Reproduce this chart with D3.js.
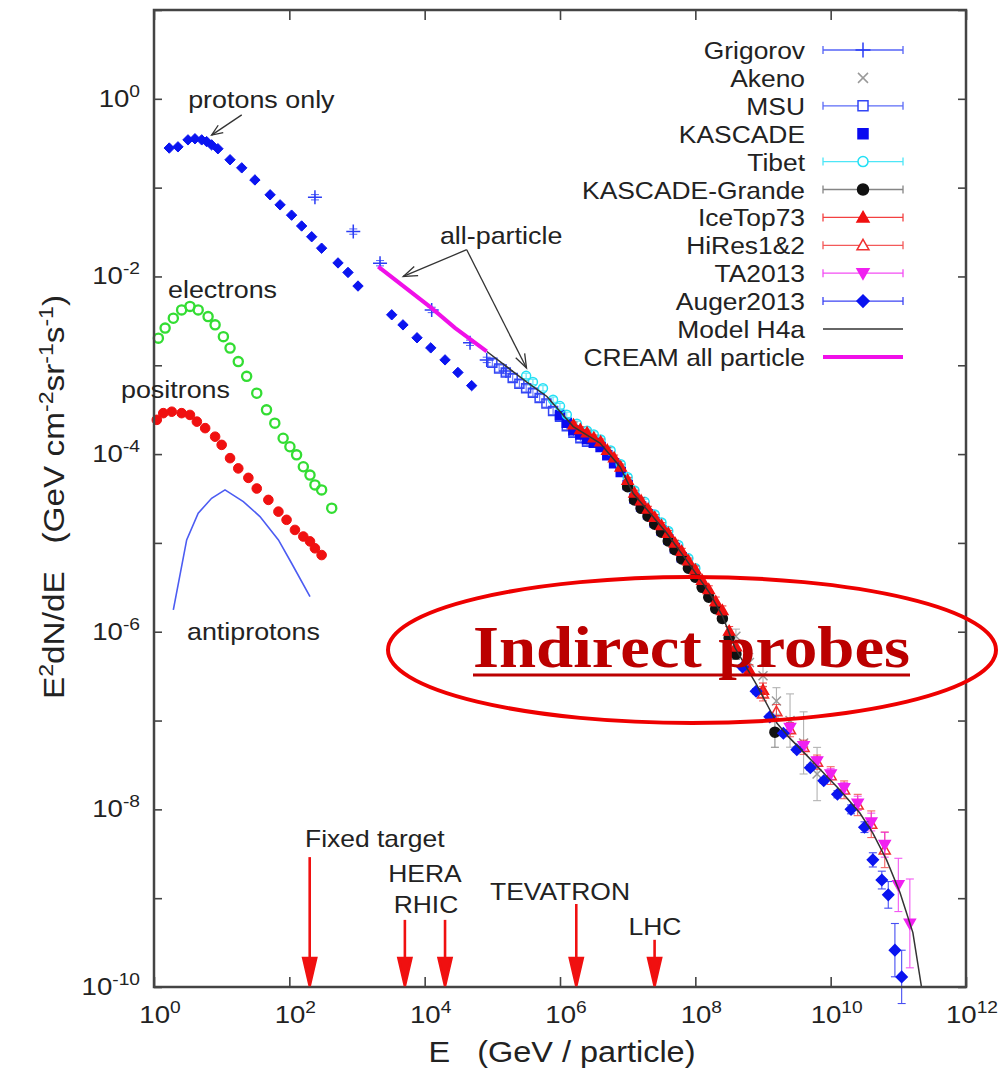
<!DOCTYPE html>
<html>
<head>
<meta charset="utf-8">
<script src="https://cdn.jsdelivr.net/npm/d3@7"></script>
<style>
body { margin: 0; background: #fff; }
svg text { font-family: "Liberation Sans", Arial, Helvetica, sans-serif; fill: #222; white-space: pre; }
</style>
</head>
<body>
<svg id="chart" width="998" height="1078"></svg>
<script>
// ---- data (E in GeV, E^2 dN/dE in GeV cm^-2 sr^-1 s^-1) ----
// low energy direct measurements, no legend entry
const protonsOnly = [[1.68, 0.279], [2.26, 0.288], [3.18, 0.345], [4.03, 0.355], [5.07, 0.345], [6.0, 0.33],
    [7.1, 0.303], [8.8, 0.274], [13.3, 0.206], [19.8, 0.167], [31, 0.122], [52, 0.083], [73, 0.064],
    [108, 0.049], [152, 0.037], [214, 0.028], [300, 0.0208], [524, 0.0142], [736, 0.0111], [1035, 0.0078],
    [3260, 0.0037], [4780, 0.00285], [7710, 0.00204], [12300, 0.00157], [20000, 0.00115], [31000, 0.00083],
    [49500, 0.00059]];
const electrons = [[1.16, 2.02e-3], [1.46, 2.62e-3], [1.93, 3.39e-3], [2.56, 4.2e-3], [3.4, 4.6e-3], [4.5, 4.2e-3],
    [6.3, 3.53e-3], [8.0, 2.85e-3], [10.6, 2.1e-3], [13.3, 1.56e-3], [17.6, 1.1e-3], [23.4, 7.5e-4], [33, 4.85e-4],
    [46, 3.15e-4], [61, 2.23e-4], [81, 1.51e-4], [102, 1.21e-4], [128, 9.8e-5], [161, 7.2e-5], [202, 5.8e-5],
    [239, 4.5e-5], [300, 3.95e-5], [423, 2.46e-5]];
const positrons = [[1.1, 2.43e-4], [1.37, 2.89e-4], [1.83, 3.0e-4], [2.56, 2.89e-4], [3.4, 2.76e-4], [4.3, 2.32e-4],
    [5.7, 1.96e-4], [8.0, 1.57e-4], [10, 1.27e-4], [13.3, 9.0e-5], [17.6, 6.9e-5], [24.8, 5.4e-5], [33, 4.1e-5],
    [49, 3.05e-5], [69, 2.25e-5], [91, 1.82e-5], [121, 1.4e-5], [161, 1.18e-5], [202, 1.04e-5], [239, 8.7e-6],
    [300, 7.3e-6]];
const antiprotons = [[1.93, 1.76e-6], [3.04, 1.08e-5], [4.5, 2.16e-5], [7.1, 3.18e-5], [11.2, 3.95e-5],
    [20.9, 2.92e-5], [36.8, 1.98e-5], [69, 1.08e-5], [108, 5.9e-6], [202, 2.48e-6]];

// all-particle measurements [E, flux, error in decades]
const grigorov = [[239, 0.078, 0.03], [881, 0.032, 0.03], [2190, 0.0141, 0.03], [12700, 0.0042, 0.03],
    [46800, 0.00179, 0.03], [82600, 0.00115, 0.03], [159000, 0.00086, 0.03]];
const akeno = [[3.98e8, 8.9e-7, 0.08], [6.3e8, 4.5e-7, 0.1], [1e9, 3.2e-7, 0.12], [1.58e9, 1.66e-7, 0.15],
    [2.51e9, 1.0e-7, 0.3], [3.98e9, 5.6e-8, 0.35], [6.3e9, 2.5e-8, 0.3]];
const msu = [[1e5, 1.07e-3, 0.04], [1.26e5, 9.2e-4, 0.04], [1.58e5, 8.3e-4, 0.04], [2.0e5, 7.2e-4, 0.04],
    [2.51e5, 6.2e-4, 0.04], [3.16e5, 5.5e-4, 0.04], [3.98e5, 4.9e-4, 0.04], [5.0e5, 4.27e-4, 0.04],
    [6.3e5, 3.7e-4, 0.04], [7.9e5, 3.05e-4, 0.04], [1e6, 2.63e-4, 0.04], [1.26e6, 2.06e-4, 0.04],
    [1.58e6, 1.74e-4, 0.04], [2.0e6, 1.51e-4, 0.04], [2.51e6, 1.38e-4, 0.04]];
const kascade = [[1e6, 2.75e-4, 0], [1.26e6, 2.25e-4, 0], [1.58e6, 1.86e-4, 0], [2.0e6, 1.66e-4, 0],
    [2.51e6, 1.48e-4, 0], [3.16e6, 1.34e-4, 0], [3.98e6, 1.2e-4, 0], [5.0e6, 9.7e-5, 0], [6.3e6, 7.9e-5, 0],
    [7.9e6, 6.3e-5, 0], [1e7, 4.5e-5, 0], [1.26e7, 3.16e-5, 0], [1.58e7, 2.57e-5, 0], [2.0e7, 2.1e-5, 0],
    [2.51e7, 1.7e-5, 0], [3.16e7, 1.38e-5, 0], [3.98e7, 1.1e-5, 0], [5.0e7, 8.7e-6, 0], [6.3e7, 6.9e-6, 0]];
const tibet = [[3.16e5, 7.6e-4, 0.03], [3.98e5, 6.5e-4, 0.03], [5.6e5, 5.5e-4, 0.03], [7.9e5, 4.1e-4, 0.03],
    [1e6, 3.47e-4, 0.03], [1.26e6, 2.77e-4, 0.03], [1.78e6, 2.19e-4, 0.03], [2.51e6, 1.83e-4, 0.03],
    [3.16e6, 1.66e-4, 0.03], [3.98e6, 1.46e-4, 0.03], [5.6e6, 1.1e-4, 0.03], [7.9e6, 7.7e-5, 0.03],
    [1e7, 5.5e-5, 0.03], [1.26e7, 3.9e-5, 0.03], [1.78e7, 2.9e-5, 0.03], [2.51e7, 2.09e-5, 0.03],
    [3.16e7, 1.7e-5, 0.03], [3.98e7, 1.36e-5, 0.03], [5.6e7, 9.5e-6, 0.03], [7.9e7, 6.7e-6, 0.03],
    [1e8, 5.2e-6, 0.03]];
const kascadeGrande = [[1e7, 4.3e-5, 0.03], [1.26e7, 3.05e-5, 0.03], [1.58e7, 2.45e-5, 0.03], [2.0e7, 2.0e-5, 0.03],
    [2.51e7, 1.62e-5, 0.03], [3.16e7, 1.32e-5, 0.03], [3.98e7, 1.05e-5, 0.03], [5.0e7, 8.4e-6, 0.03],
    [6.3e7, 6.6e-6, 0.03], [7.9e7, 5.2e-6, 0.03], [1e8, 4.1e-6, 0.04], [1.26e8, 3.16e-6, 0.04],
    [1.58e8, 2.45e-6, 0.04], [2.0e8, 1.82e-6, 0.04], [2.51e8, 1.41e-6, 0.05], [3.16e8, 8.5e-7, 0.05],
    [3.98e8, 5.6e-7, 0.06], [1.5e9, 7.4e-8, 0.17]];
const iceTop73 = [[1.58e6, 2.14e-4, 0.03], [2.0e6, 1.9e-4, 0.03], [2.51e6, 1.74e-4, 0.03], [3.16e6, 1.53e-4, 0.03],
    [3.98e6, 1.38e-4, 0.03], [5.0e6, 1.11e-4, 0.03], [6.3e6, 9.1e-5, 0.03], [7.9e6, 7.2e-5, 0.03],
    [1e7, 5.1e-5, 0.03], [1.26e7, 3.66e-5, 0.03], [1.58e7, 3.0e-5, 0.03], [2.0e7, 2.41e-5, 0.03],
    [2.51e7, 1.95e-5, 0.03], [3.16e7, 1.58e-5, 0.03], [3.98e7, 1.29e-5, 0.03], [5.0e7, 1.0e-5, 0.03],
    [6.3e7, 8.1e-6, 0.03], [7.9e7, 6.3e-6, 0.03], [1e8, 5.0e-6, 0.04], [1.26e8, 3.8e-6, 0.04],
    [1.58e8, 3.0e-6, 0.04], [2.0e8, 2.19e-6, 0.05], [2.51e8, 1.74e-6, 0.05], [3.16e8, 1.02e-6, 0.05],
    [3.98e8, 6.8e-7, 0.05], [6.3e8, 3.7e-7, 0.06], [1e9, 2.2e-7, 0.08]];
const hiRes = [[1e9, 2.0e-7, 0.08], [1.58e9, 1.26e-7, 0.08], [2.51e9, 7.9e-8, 0.08], [3.98e9, 5.0e-8, 0.08],
    [6.3e9, 3.4e-8, 0.08], [1e10, 2.4e-8, 0.1], [1.58e10, 1.66e-8, 0.1], [2.51e10, 1.12e-8, 0.12],
    [3.98e10, 6.8e-9, 0.15], [6.3e10, 3.5e-9, 0.2]];
const ta2013 = [[2.51e9, 8.3e-8, 0.05], [3.98e9, 5.2e-8, 0.05], [6.3e9, 3.5e-8, 0.05], [1e10, 2.5e-8, 0.06],
    [1.58e10, 1.74e-8, 0.06], [2.51e10, 1.17e-8, 0.08], [3.98e10, 7.2e-9, 0.1], [6.3e10, 4.0e-9, 0.14],
    [1e11, 1.41e-9, 0.3], [1.48e11, 5.2e-10, 0.5]];
const auger2013 = [[5.0e8, 4.0e-7, 0.03], [7.9e8, 2.14e-7, 0.03], [1.26e9, 1.1e-7, 0.03], [2.0e9, 7.2e-8, 0.03],
    [3.16e9, 4.7e-8, 0.03], [5.0e9, 2.95e-8, 0.03], [7.9e9, 2.1e-8, 0.03], [1.26e10, 1.48e-8, 0.04],
    [2.0e10, 1.0e-8, 0.05], [3.16e10, 6.3e-9, 0.06], [4.2e10, 2.7e-9, 0.08], [5.7e10, 1.6e-9, 0.1],
    [7.1e10, 1.09e-9, 0.15], [8.9e10, 2.6e-10, 0.3], [1.12e11, 1.3e-10, 0.3]];
const modelH4a = [[8.3e4, 1.43e-3], [3.2e5, 6.5e-4], [6.4e5, 4.45e-4], [1.57e6, 2.04e-4], [3.9e6, 1.33e-4],
    [7.7e6, 7.2e-5], [1.21e7, 3.6e-5], [2.14e7, 2.16e-5], [3.77e7, 1.29e-5], [7.4e7, 6.4e-6], [1.64e8, 2.7e-6],
    [2.51e8, 1.51e-6], [3.85e8, 6.6e-7], [8.1e8, 2.5e-7], [1.61e9, 9.3e-8], [2.51e9, 6.3e-8], [4.5e9, 4.0e-8],
    [1.37e10, 1.65e-8], [2.7e10, 9.1e-9], [4.2e10, 5.4e-9], [6.7e10, 2.7e-9], [1.06e11, 1.15e-9],
    [1.64e11, 4.1e-10], [2.2e11, 1.0e-10]];
const creamAll = [[2060, 0.0129], [12700, 0.0044], [28000, 0.00264], [82600, 0.00143]];

// accelerator reach: name, E, arrow top (flux units)
const accelNames = ["Fixed target", "HERA", "RHIC", "TEVATRON", "LHC"];
const accelE = [2.0e2, 5.1e3, 2.0e4, 1.74e6, 2.5e7];
const accelTop = [2.9e-9, 5.7e-10, 5.7e-10, 8.6e-10, 3.4e-10];

const xTickExp = [0, 2, 4, 6, 8, 10, 12];
const yTickExp = [0, -2, -4, -6, -8, -10];

// ---- chart ----
const svg = d3.select("#chart");
const x = d3.scaleLog().domain([1, 1e12]).range([154, 966]);
const y = d3.scaleLog().domain([1e-10, 10]).range([987, 10]);

function addText(g, px, py, str, size, k, anchor) {
    return g.append("text")
        .attr("transform", `translate(${px},${py}) scale(${k},1)`)
        .attr("text-anchor", anchor || "start")
        .style("font-size", size + "px")
        .text(str);
}

function powerLabel(g, px, py, exp, anchor) {
    let t = g.append("text")
        .attr("transform", `translate(${px},${py}) scale(1.2,1)`)
        .attr("text-anchor", anchor)
        .style("font-size", "23px");
    t.append("tspan").text("10");
    t.append("tspan").attr("dy", -10).style("font-size", "16px").text(exp);
}

function markerPath(type, s) {
    if (type == "plus") return `M${-s},0H${s}M0,${-s}V${s}`;
    if (type == "cross") return `M${-s},${-s}L${s},${s}M${-s},${s}L${s},${-s}`;
    if (type == "square") return `M${-s},${-s}H${s}V${s}H${-s}Z`;
    if (type == "diamond") return `M0,${-s}L${s},0L0,${s}L${-s},0Z`;
    if (type == "triUp") return `M0,${-s}L${s},${s * 0.75}L${-s},${s * 0.75}Z`;
    if (type == "triDown") return `M0,${s}L${s},${-s * 0.75}L${-s},${-s * 0.75}Z`;
    return `M${-s},0A${s},${s} 0 1,0 ${s},0A${s},${s} 0 1,0 ${-s},0Z`;
}

function drawMarkers(g, data, spec) {
    g.selectAll(null)
        .data(data)
        .enter()
        .append("path")
        .attr("transform", d => `translate(${x(d[0])},${y(d[1])})`)
        .attr("d", markerPath(spec.marker, spec.size))
        .attr("fill", spec.fill ? spec.color : "none")
        .attr("stroke", spec.color)
        .attr("stroke-width", spec.sw || 1.5);
}

function drawErrors(g, data, color) {
    let eb = g.selectAll(null).data(data.filter(d => d[2] > 0)).enter().append("g")
        .attr("stroke", color).attr("stroke-width", 1.1).attr("opacity", 0.75);
    eb.append("line")
        .attr("x1", d => x(d[0])).attr("x2", d => x(d[0]))
        .attr("y1", d => y(d[1] / Math.pow(10, d[2]))).attr("y2", d => y(d[1] * Math.pow(10, d[2])));
    eb.append("line")
        .attr("x1", d => x(d[0]) - 4).attr("x2", d => x(d[0]) + 4)
        .attr("y1", d => y(d[1] / Math.pow(10, d[2]))).attr("y2", d => y(d[1] / Math.pow(10, d[2])));
    eb.append("line")
        .attr("x1", d => x(d[0]) - 4).attr("x2", d => x(d[0]) + 4)
        .attr("y1", d => y(d[1] * Math.pow(10, d[2]))).attr("y2", d => y(d[1] * Math.pow(10, d[2])));
}

function drawArrow(g, x1, y1, x2, y2, color, width, headLen, headW, filled) {
    let ang = Math.atan2(y2 - y1, x2 - x1);
    let bx = x2 - headLen * Math.cos(ang), by = y2 - headLen * Math.sin(ang);
    let px = -Math.sin(ang) * headW, py = Math.cos(ang) * headW;
    g.append("line").attr("x1", x1).attr("y1", y1)
        .attr("x2", filled ? bx : x2).attr("y2", filled ? by : y2)
        .attr("stroke", color).attr("stroke-width", width);
    g.append("path")
        .attr("d", filled ? `M${x2},${y2}L${bx + px},${by + py}L${bx - px},${by - py}Z`
            : `M${bx + px},${by + py}L${x2},${y2}L${bx - px},${by - py}`)
        .attr("fill", filled ? color : "none")
        .attr("stroke", color).attr("stroke-width", width);
}

const line = d3.line().x(d => x(d[0])).y(d => y(d[1]));
const plot = svg.append("g");

// low energy species
plot.append("path").datum(antiprotons).attr("d", line)
    .attr("fill", "none").attr("stroke", "#4c5cf2").attr("stroke-width", 1.6);
drawMarkers(plot, electrons, { marker: "circle", size: 4.6, color: "#33dd33", fill: false, sw: 2.3 });
drawMarkers(plot, positrons, { marker: "circle", size: 4.8, color: "#f01010", fill: true, sw: 1 });
drawMarkers(plot, protonsOnly, { marker: "diamond", size: 5.2, color: "#0a14f0", fill: true, sw: 1 });

// all-particle series, in legend order
const series = [
    { name: "Grigorov", data: grigorov, marker: "plus", size: 7, color: "#2a3cf5", fill: false, bars: true },
    { name: "Akeno", data: akeno, marker: "cross", size: 4.5, color: "#9a9a9a", fill: false, bars: false, errs: true },
    { name: "MSU", data: msu, marker: "square", size: 4.5, color: "#3346f5", fill: false, bars: true },
    { name: "KASCADE", data: kascade, marker: "square", size: 4.5, color: "#0a0af0", fill: true, bars: false },
    { name: "Tibet", data: tibet, marker: "circle", size: 4.5, color: "#22e0f5", fill: false, bars: true },
    { name: "KASCADE-Grande", data: kascadeGrande, marker: "circle", size: 5, color: "#111111", fill: true, bars: true, barColor: "#666" },
    { name: "IceTop73", data: iceTop73, marker: "triUp", size: 5.5, color: "#f01010", fill: true, bars: true },
    { name: "HiRes1&2", data: hiRes, marker: "triUp", size: 5.5, color: "#f03030", fill: false, bars: true },
    { name: "TA2013", data: ta2013, marker: "triDown", size: 5.5, color: "#f020f0", fill: true, bars: true },
    { name: "Auger2013", data: auger2013, marker: "diamond", size: 5.5, color: "#0a14f0", fill: true, bars: true }
];

for (const s of series) {
    if (s.bars || s.errs) drawErrors(plot, s.data, s.barColor || s.color);
    drawMarkers(plot, s.data, s);
}
plot.append("path").datum(modelH4a).attr("d", line)
    .attr("fill", "none").attr("stroke", "#333").attr("stroke-width", 1.5);
plot.append("path").datum(creamAll).attr("d", line)
    .attr("fill", "none").attr("stroke", "#f010e8").attr("stroke-width", 4);

// frame and ticks
const axes = svg.append("g");
function styleAxis(g) {
    g.select(".domain").remove();
    g.selectAll(".tick line").attr("stroke", "#444").attr("stroke-width", 1.6);
}
const xTickVals = xTickExp.map(e => Math.pow(10, e));
const yTickVals = d3.range(-10, 2).map(e => Math.pow(10, e));
axes.append("g").attr("transform", "translate(0,987)")
    .call(d3.axisBottom(x).tickValues(xTickVals).tickSize(-10).tickFormat("")).call(styleAxis);
axes.append("g").attr("transform", "translate(0,10)")
    .call(d3.axisTop(x).tickValues(xTickVals).tickSize(-10).tickFormat("")).call(styleAxis);
axes.append("g").attr("transform", "translate(154,0)")
    .call(d3.axisLeft(y).tickValues(yTickVals).tickSize(-8).tickFormat("")).call(styleAxis);
axes.append("g").attr("transform", "translate(966,0)")
    .call(d3.axisRight(y).tickValues(yTickVals).tickSize(-8).tickFormat("")).call(styleAxis);
axes.append("rect").attr("x", 154).attr("y", 10).attr("width", 812).attr("height", 977)
    .attr("fill", "none").attr("stroke", "#444").attr("stroke-width", 2.5);

for (const e of xTickExp) powerLabel(axes, x(Math.pow(10, e)) + 6, 1023, e, "middle");
for (const e of yTickExp) powerLabel(axes, 140, y(Math.pow(10, e)) + 8, e, "end");

// axis titles
axes.append("text").attr("transform", "translate(562,1062) scale(1.12,1)")
    .attr("text-anchor", "middle").style("font-size", "29px").text("E   (GeV / particle)");
let yt = axes.append("text").attr("transform", "translate(64,497) rotate(-90) scale(1.15,1)")
    .attr("text-anchor", "middle").style("font-size", "29px");
yt.append("tspan").text("E");
yt.append("tspan").attr("dy", -11).style("font-size", "20px").text("2");
yt.append("tspan").attr("dy", 11).text("dN/dE   (GeV cm");
yt.append("tspan").attr("dy", -11).style("font-size", "20px").text("-2");
yt.append("tspan").attr("dy", 11).text("sr");
yt.append("tspan").attr("dy", -11).style("font-size", "20px").text("-1");
yt.append("tspan").attr("dy", 11).text("s");
yt.append("tspan").attr("dy", -11).style("font-size", "20px").text("-1");
yt.append("tspan").attr("dy", 11).text(")");

// legend
const legend = svg.append("g");
const legendRows = series.map(s => s.name).concat(["Model H4a", "CREAM all particle"]);
legendRows.forEach(function (name, i) {
    let ly = 50 + i * 27.9;
    addText(legend, 805, ly + 9, name, 24, 1.1, "end");
    let s = series[i];
    if (s) {
        if (s.bars) {
            let lc = s.barColor || s.color;
            legend.append("path")
                .attr("d", `M823,${ly - 4}V${ly + 4}M823,${ly}H903M903,${ly - 4}V${ly + 4}`)
                .attr("stroke", lc).attr("stroke-width", 1.3).attr("fill", "none").attr("opacity", 0.8);
        }
        legend.append("path")
            .attr("transform", `translate(863,${ly})`)
            .attr("d", markerPath(s.marker, s.size + 0.5))
            .attr("fill", s.fill ? s.color : (s.marker == "circle" || s.marker == "square" || s.marker == "triUp" ? "#fff" : "none"))
            .attr("stroke", s.color).attr("stroke-width", 1.5);
    } else if (name == "Model H4a") {
        legend.append("line").attr("x1", 823).attr("x2", 903).attr("y1", ly).attr("y2", ly)
            .attr("stroke", "#333").attr("stroke-width", 1.6);
    } else {
        legend.append("line").attr("x1", 823).attr("x2", 903).attr("y1", ly).attr("y2", ly)
            .attr("stroke", "#f010e8").attr("stroke-width", 4);
    }
});

// annotations
const notes = svg.append("g");
addText(notes, x(3.2), y(0.79), "protons only", 24, 1.12);
addText(notes, x(1.61), y(5.7e-3), "electrons", 24, 1.12);
addText(notes, x(0.325), y(4.3e-4), "positrons", 24, 1.12);
addText(notes, x(3.07), y(8.1e-7), "antiprotons", 24, 1.12);
addText(notes, x(1.68e4), y(0.0233), "all-particle", 24, 1.12);
drawArrow(notes, x(19.8), y(0.66), x(7.1), y(0.39), "#333", 1.3, 11, 4.5, false);
drawArrow(notes, x(4.18e4), y(0.02), x(4830), y(0.01), "#333", 1.3, 14, 5, false);
drawArrow(notes, x(4.18e4), y(0.02), x(3.2e5), y(9.3e-4), "#333", 1.3, 14, 5, false);

// accelerators
const accelLabelPos = [[305, 847, "start"], [425, 882, "middle"], [426, 913, "middle"], [560, 900, "middle"], [655, 935, "middle"]];
accelNames.forEach(function (n, i) {
    drawArrow(notes, x(accelE[i]), y(accelTop[i]), x(accelE[i]), y(1e-10) - 1, "#f01010", 2.6, 28, 6.5, true);
    addText(notes, accelLabelPos[i][0], accelLabelPos[i][1], n, 23, 1.15, accelLabelPos[i][2]);
});

// overlay
const over = svg.append("g");
over.append("ellipse").attr("cx", 692).attr("cy", 650).attr("rx", 304).attr("ry", 73)
    .attr("fill", "none").attr("stroke", "#ee0000").attr("stroke-width", 4);
over.append("text").attr("x", 473).attr("y", 667)
    .attr("textLength", 437).attr("lengthAdjust", "spacingAndGlyphs")
    .style("font-family", "'Liberation Serif', 'Times New Roman', serif")
    .style("font-weight", "bold").style("font-size", "60px").style("fill", "#bb0000")
    .text("Indirect probes");
over.append("line").attr("x1", 473).attr("x2", 910).attr("y1", 675).attr("y2", 675)
    .attr("stroke", "#bb0000").attr("stroke-width", 3);
</script>
</body>
</html>
